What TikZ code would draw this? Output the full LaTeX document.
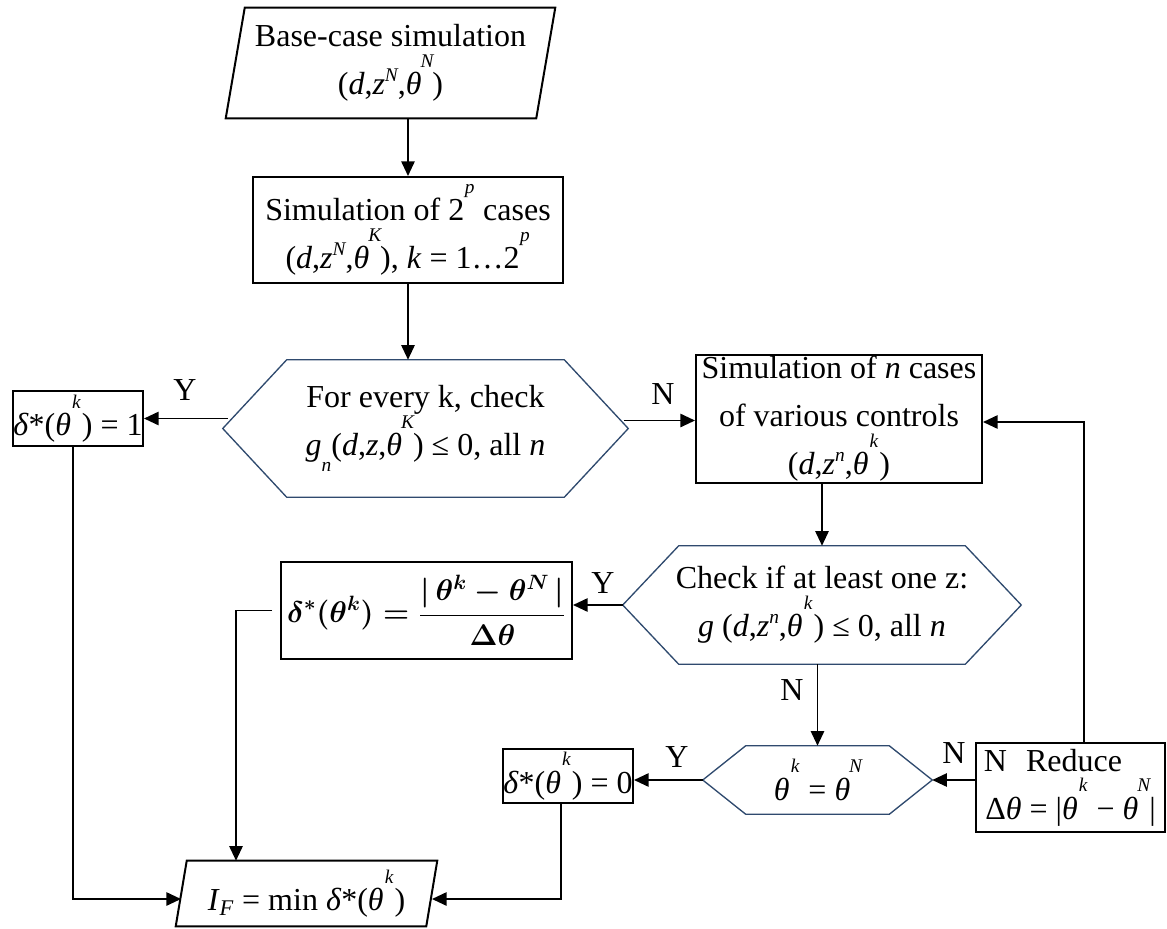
\documentclass[tikz,border=0pt]{standalone}
\usepackage{amsmath}
\usepackage{graphicx}
\usepackage{fontspec}
\setmainfont{Liberation Serif}
\usetikzlibrary{arrows.meta,calc}
\definecolor{hexnavy}{RGB}{47,74,110}
% raised index placed over a gap (Word-style floating superscript)
\newcommand\hs[1]{\makebox[0.34em][c]{\raisebox{0.86em}{\fontsize{14.5}{14.5}\selectfont\itshape #1}}}
% ordinary superscript and lowered subscript
\newcommand\su[1]{\raisebox{0.42em}{\fontsize{14.5}{14.5}\selectfont\itshape #1}}
\newcommand\lo[1]{\raisebox{-0.5em}{\fontsize{14.5}{14.5}\selectfont\itshape #1}}
\newcommand\mainsz{\fontsize{24}{36}\selectfont}
\newcommand\hexagonoutline[2]{\draw[hexline] (#1.west) -- ($(#1.north west)+(#2,0)$) -- ($(#1.north east)+(-#2,0)$) -- (#1.east) -- ($(#1.south east)+(-#2,0)$) -- ($(#1.south west)+(#2,0)$) -- cycle;}
\newcommand\slantoutline[2]{\draw[boxline] ($(#1.north west)+(#2,0)$) -- (#1.north east) -- ($(#1.south east)+(-#2,0)$) -- (#1.south west) -- cycle;}
\begin{document}
\begin{tikzpicture}[x=0.75pt,y=-0.75pt,
  plain/.style={rectangle, inner sep=0pt, align=center, font=\mainsz},
  box/.style={plain, draw, line width=1.5pt},
  boxline/.style={draw, line width=1.5pt},
  hexline/.style={draw=hexnavy, line width=1pt},
  arr/.style={line width=1.35pt, -{Triangle[length=11pt,width=10pt]}},
  lbl/.style={inner sep=0pt, font=\mainsz}]
\useasboundingbox (0,0) rectangle (1167,928);

% process blocks
\node[plain, minimum width=329*0.75pt, minimum height=110*0.75pt] (base) at (390.5,63)
  {Base-case simulation\\(\textit{d},\textit{z}\su{N},\textit{θ}\hs{N})};
\slantoutline{base}{19}

\node[box, minimum width=310*0.75pt, minimum height=106*0.75pt] (sim2) at (408,230)
  {Simulation of 2\hs{p} cases\\(\textit{d},\textit{z}\su{N},\textit{θ}\hs{K}), \textit{k} = 1…2\hs{p}};

\node[plain, minimum width=405*0.75pt, minimum height=137*0.75pt] (hex1) at (425.5,428.5)
  {For every k, check\\\textit{g}\lo{n}(\textit{d},\textit{z},\textit{θ}\hs{K}) ≤ 0, all \textit{n}};
\hexagonoutline{hex1}{64}

\node[box, minimum width=130*0.75pt, minimum height=55*0.75pt] (d1) at (78,418.5)
  {\textit{δ}*(\textit{θ}\hs{k}) = 1};

\node[box, minimum width=286*0.75pt, minimum height=128*0.75pt] (simn) at (839,419)
  {Simulation of \textit{n} cases\\of various controls\\(\textit{d},\textit{z}\su{n},\textit{θ}\hs{k})};

\node[plain, minimum width=398*0.75pt, minimum height=118*0.75pt] (hex2) at (822,605)
  {Check if at least one z:\\\textit{g} (\textit{d},\textit{z}\su{n},\textit{θ}\hs{k}) ≤ 0, all \textit{n}};
\hexagonoutline{hex2}{56}

\node[box, minimum width=291*0.75pt, minimum height=97*0.75pt, font=\fontsize{24.5}{30}\selectfont\boldmath] (fb) at (426.5,610.5)
  {\scalebox{0.9}{$\displaystyle \delta^{*}(\theta^{k})=\frac{|\,\theta^{k}-\theta^{N}\,|}{\Delta\theta}$}};

\node[plain, minimum width=229*0.75pt, minimum height=68*0.75pt] (hex3) at (817.5,780)
  {\textit{θ}\hs{k} = \textit{θ}\hs{N}};
\hexagonoutline{hex3}{43}

\node[box, minimum width=130*0.75pt, minimum height=54*0.75pt] (d0) at (568,776)
  {\textit{δ}*(\textit{θ}\hs{k}) = 0};

\node[box, minimum width=189*0.75pt, minimum height=89*0.75pt] (red) at (1070.5,787.5)
  {N\hspace{0.6em}Reduce\hspace{1.1em}\null\\Δ\textit{θ} = |\textit{θ}\hs{k} − \textit{θ}\hs{N}|};

\node[plain, minimum width=261*0.75pt, minimum height=65*0.75pt] (IF) at (306.5,893.5)
  {\textit{I}\textsubscript{\textit{F}} = min \textit{δ}*(\textit{θ}\hs{k})};
\slantoutline{IF}{11}

% branch labels
\node[lbl] (y1) at (185,390) {Y};
\node[lbl] (n1) at (663,394) {N};
\node[lbl] (y2) at (603,583) {Y};
\node[lbl] (n2) at (792,690) {N};
\node[lbl] (y3) at (677,757) {Y};
\node[lbl] (n3) at (954,753) {N};

% connectors
\coordinate (loop) at (1084,422);
\coordinate (ifl) at (181,899);
\coordinate (ifr) at (432,899);
\coordinate (fbturn) at (236,613);

\draw[arr] (sim2.north |- base.south) -- (sim2.north);
\draw[arr] (sim2.south) -- (sim2.south |- hex1.north);
\draw[arr] ($(d1.east -| hex1.west)+(5,0)$) -- (d1.east);
\draw[arr] ($(hex1.east)+(-4,-8)$) -- ($(hex1.east -| simn.west)+(0,-8)$);
\draw[arr] (hex2.north |- simn.south) -- (hex2.north);
\draw[arr] (hex2.west) -- (hex2.west -| fb.east);
\draw[arr] (hex3.north |- hex2.south) -- (hex3.north);
\draw[arr] (hex3.west) -- (hex3.west -| d0.east);
\draw[arr] (hex3.east -| red.west) -- (hex3.east);
\draw[arr] (loop |- red.north) -- (loop) -- (loop -| simn.east);
\draw[arr] ($(d1.south)+(-5,0)$) |- (ifl);
\draw[arr] ($(fb.west)+(-8,0)$) -- (fb.west -| fbturn) -- (fbturn |- IF.north);
\draw[arr] ($(d0.south)+(-7,0)$) |- (ifr);
\end{tikzpicture}
\end{document}
